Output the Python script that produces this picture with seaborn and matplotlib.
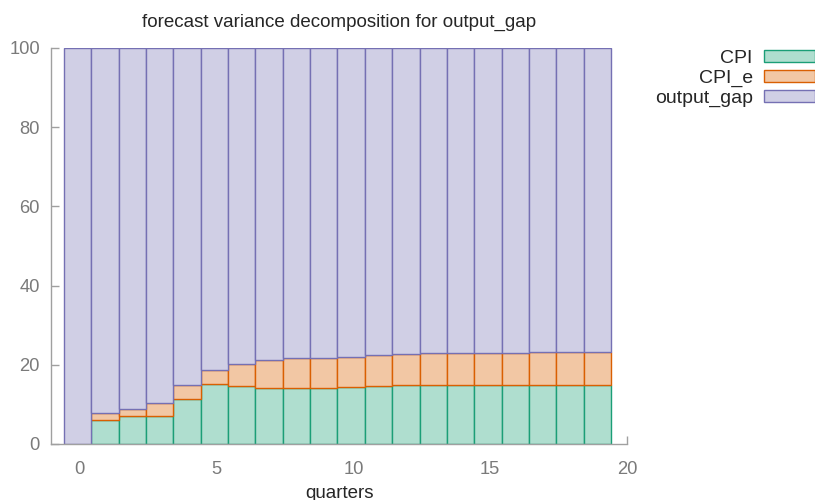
import matplotlib
matplotlib.use("Agg")
import matplotlib.pyplot as plt
from matplotlib.patches import Patch
import numpy as np
import pandas as pd
import seaborn as sns

quarters = list(range(20))
cpi = [0, 6.1, 7.1, 7.0, 11.4, 15.1, 14.6, 14.1, 14.1, 14.1, 14.3, 14.7, 14.9,
       14.85, 14.85, 14.9, 14.9, 14.9, 14.9, 14.9]
cpi_e = [0, 1.65, 1.66, 3.3, 3.5, 3.7, 5.7, 7.2, 7.6, 7.6, 7.7, 7.8, 7.8,
         8.05, 8.15, 8.2, 8.2, 8.3, 8.3, 8.3]
output_gap = [100 - a - b for a, b in zip(cpi, cpi_e)]
series_names = ["CPI", "CPI_e", "output_gap"]

sns.set_theme(style="white")
plt.rcParams['font.family'] = ['Liberation Sans', 'DejaVu Sans']

fills = ["#afdecf", "#f2c7a4", "#d0cfe5"]
edges = ["#1b9e77", "#d95f02", "#7570b3"]

fig = plt.figure(figsize=(8.15, 5.0), dpi=100)
ax = fig.add_axes([51/815, 1 - 444/500, (627-51)/815, (444-48)/500])

offset = -0.08
xpos = np.array(quarters) + offset
df = pd.DataFrame({"x": xpos, "CPI": cpi, "CPI_e": cpi_e, "output_gap": output_gap})
bottom = np.zeros(len(quarters))
for name, fc, ec in zip(series_names, fills, edges):
    sns.barplot(data=df, x="x", y=name, native_scale=True, width=1.0,
                bottom=bottom, color=fc, saturation=1, edgecolor=ec, linewidth=1.0,
                ax=ax, errorbar=None)
    bottom = bottom + df[name].values

ax.set_xlim(-1.05, 19.88)
ax.set_ylim(0, 100)
ax.set_xticks([0, 5, 10, 15, 20])
ax.set_xticklabels(["0", "5", "10", "15", "20"])
ax.set_yticks([0, 20, 40, 60, 80, 100])
ax.set_yticklabels(["0", "20", "40", "60", "80", "100"])
for s in ["top", "right"]:
    ax.spines[s].set_visible(False)
for s in ["left", "bottom"]:
    ax.spines[s].set_color("#a0a0a0")
    ax.spines[s].set_linewidth(1.0)
ax.tick_params(axis="both", direction="in", length=6, color="#a0a0a0",
               labelcolor="#7a7a7a", labelsize=13.2, width=1.0,
               left=True, bottom=True)
ax.tick_params(axis="y", pad=8)
ax.tick_params(axis="x", pad=12)
ax.set_xlabel("quarters", fontsize=13.5, labelpad=5)
ax.set_ylabel("")
ax.set_title("forecast variance decomposition for output_gap", fontsize=13.5, pad=15)

handles = [Patch(facecolor=fc, edgecolor=ec, linewidth=1.0) for fc, ec in zip(fills, edges)]
fig.legend(handles, series_names, loc="upper right", bbox_to_anchor=(1.0, 0.9),
           frameon=False, markerfirst=False, fontsize=14, handlelength=2.6,
           handleheight=0.55, labelspacing=0.14, handletextpad=0.6, borderaxespad=0,
           borderpad=0)

fig.savefig("out.png", dpi=100)
